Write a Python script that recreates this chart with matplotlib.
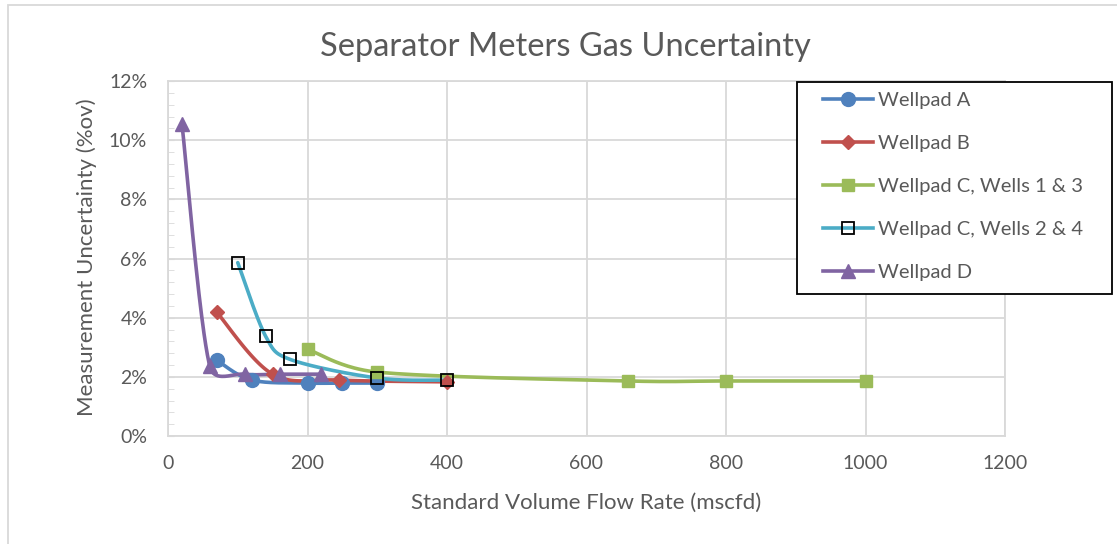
import numpy as np
import matplotlib
matplotlib.use("Agg")
import matplotlib.pyplot as plt
from matplotlib.patches import Rectangle
from matplotlib.lines import Line2D
from matplotlib.ticker import MultipleLocator, FuncFormatter

plt.rcParams['font.family'] = ['Lato', 'DejaVu Sans']

# data (flow in mscfd, uncertainty in %)
flow_a = [70, 120, 200, 250, 300]
unc_a = [2.56, 1.89, 1.79, 1.79, 1.79]

flow_b = [70, 150, 245, 400]
unc_b = [4.18, 2.09, 1.89, 1.83]

flow_c13 = [200, 300, 660, 800, 1000]
unc_c13 = [2.93, 2.16, 1.86, 1.86, 1.86]

flow_c24 = [100, 140, 175, 300, 400]
unc_c24 = [5.86, 3.37, 2.59, 1.96, 1.89]

flow_d = [20, 60, 110, 160, 220]
unc_d = [10.55, 2.35, 2.09, 2.09, 2.09]

names = ['Wellpad A', 'Wellpad B', 'Wellpad C, Wells 1 & 3',
         'Wellpad C, Wells 2 & 4', 'Wellpad D']

TXT = '#595959'
GRID = '#D9D9D9'

# px per unit (approx) so the smoothing works in screen space like Excel
SX = 837 / 1200.0
SY = 355 / 12.0


def smooth(xs, ys, n=40):
    p = np.column_stack([np.array(xs) * SX, np.array(ys) * SY])
    m = len(p)
    out = [p[0]]
    for i in range(m - 1):
        p0 = p[max(i - 1, 0)]
        p1 = p[i]
        p2 = p[i + 1]
        p3 = p[min(i + 2, m - 1)]
        d = np.hypot(*(p2 - p1))
        t1 = (p2 - p0) / 6.0
        t2 = (p3 - p1) / 6.0
        l1 = np.hypot(*t1)
        l2 = np.hypot(*t2)
        if l1 > d / 2:
            t1 = t1 * (d / 2) / l1
        if l2 > d / 2:
            t2 = t2 * (d / 2) / l2
        c1 = p1 + t1
        c2 = p2 - t2
        t = np.linspace(0, 1, n)[1:, None]
        seg = ((1 - t) ** 3) * p1 + 3 * ((1 - t) ** 2) * t * c1 \
            + 3 * (1 - t) * t ** 2 * c2 + t ** 3 * p2
        out.extend(seg)
    out = np.array(out)
    return out[:, 0] / SX, out[:, 1] / SY


fig = plt.figure(figsize=(11.17, 5.44), dpi=100)
ax = fig.add_axes([168 / 1117, 108 / 544, 837 / 1117, 355 / 544])

series = [
    (flow_a, unc_a, '#4F81BD', dict(marker='o', ms=10, mfc='#4F81BD', mec='#4F81BD')),
    (flow_b, unc_b, '#C0504D', dict(marker='D', ms=7.5, mfc='#C0504D', mec='#C0504D')),
    (flow_c13, unc_c13, '#9BBB59', dict(marker='s', ms=9, mfc='#9BBB59', mec='#9BBB59')),
    (flow_c24, unc_c24, '#4BACC6', dict(marker='s', ms=8.5, mfc='none', mec='black', mew=1.3)),
    (flow_d, unc_d, '#8064A2', dict(marker='^', ms=10, mfc='#8064A2', mec='#8064A2')),
]

handles = []
for xs, ys, col, mk in series:
    sx, sy = smooth(xs, ys)
    ax.plot(sx, sy, color=col, lw=2.6, solid_capstyle='round', zorder=3)
    ax.plot(xs, ys, ls='none', zorder=4, **mk)
    handles.append(Line2D([0], [0], color=col, lw=2.6, **mk))

ax.set_xlim(0, 1200)
ax.set_ylim(0, 12)
ax.xaxis.set_major_locator(MultipleLocator(200))
ax.yaxis.set_major_locator(MultipleLocator(2))
ax.yaxis.set_minor_locator(MultipleLocator(0.4))
ax.yaxis.set_major_formatter(FuncFormatter(lambda v, p: '%d%%' % v))
ax.grid(True, which='major', color=GRID, lw=1.3)
ax.set_axisbelow(True)
for s in ax.spines.values():
    s.set_color(GRID)
    s.set_linewidth(1.3)
ax.tick_params(axis='x', length=0, pad=14, labelsize=14, labelcolor=TXT)
ax.tick_params(axis='y', which='major', direction='in', length=4, color=GRID,
               pad=15, labelsize=14, labelcolor=TXT)
ax.tick_params(axis='y', which='minor', direction='in', length=4, color=GRID)

fig.text(565 / 1117, 1 - 47 / 544, 'Separator Meters Gas Uncertainty',
         ha='center', va='center', fontsize=23.5, color=TXT)
fig.text(586 / 1117, 1 - 503 / 544, 'Standard Volume Flow Rate (mscfd)',
         ha='center', va='center', fontsize=16, color=TXT)
fig.text(87 / 1117, 1 - 257 / 544, 'Measurement Uncertainty (%ov)',
         ha='center', va='center', rotation=90, fontsize=16, color=TXT)

# chart area border
fig.patches.append(Rectangle((8 / 1117, -0.1), 1.2, 1 - 5 / 544 + 0.1,
                             transform=fig.transFigure, fill=False,
                             ec=GRID, lw=1.3))
# legend box
fig.patches.append(Rectangle((797 / 1117, 1 - 294 / 544), 315 / 1117, 212 / 544,
                             transform=fig.transFigure, facecolor='white',
                             ec='black', lw=1.3, zorder=5))
leg = fig.legend(handles, names, loc='upper left',
                 bbox_to_anchor=(823 / 1117, 1 - 92 / 544),
                 frameon=False, fontsize=14.5, labelspacing=1.29,
                 handlelength=2.5, handletextpad=0.25, borderpad=0,
                 borderaxespad=0)
leg.set_zorder(6)
for t in leg.get_texts():
    t.set_color(TXT)

fig.savefig('out.png', dpi=100)
